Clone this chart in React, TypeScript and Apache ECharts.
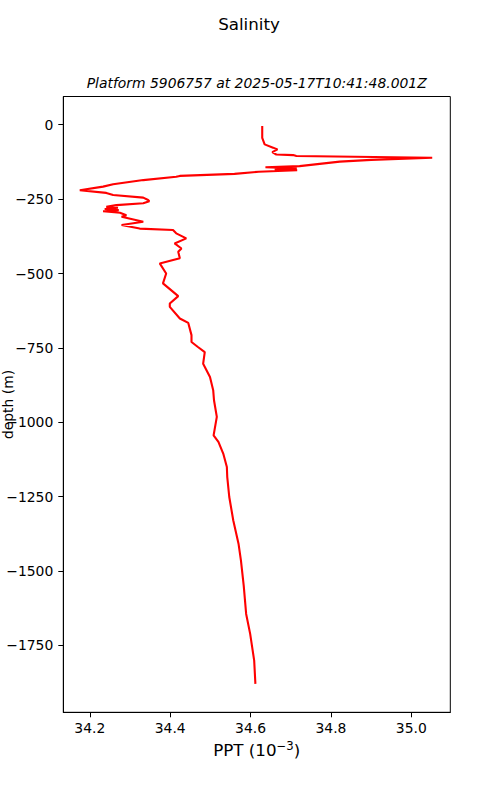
import React, { useEffect, useRef } from "react";
import * as echarts from "echarts";

const depth = [
  -4, -44, -66, -77, -83, -92, -100, -102, -105, -111, -118, -124, -139, -143, -147, -150, -153, -158, -165,
  -172, -175, -186, -200, -208, -220, -229, -236, -245, -253, -257, -264, -270, -276, -279, -283, -287, -291,
  -296, -304, -309, -326, -337, -349, -354, -365, -382, -399, -416, -427, -449, -466, -500, -533, -576, -601,
  -612, -651, -666, -707, -730, -747, -764, -803, -848, -892, -926, -982, -1044, -1066, -1105, -1150, -1184,
  -1251, -1330, -1408, -1464, -1550, -1644, -1711, -1801, -1879,
];
const salinity = [
  34.629, 34.629, 34.635, 34.656, 34.667, 34.654, 34.664, 34.706, 34.714, 35.052, 34.9, 34.822, 34.722, 34.637,
  34.715, 34.66, 34.716, 34.62, 34.56, 34.424, 34.415, 34.333, 34.258, 34.233, 34.175, 34.241, 34.258, 34.333,
  34.345, 34.348, 34.333, 34.266, 34.241, 34.27, 34.237, 34.272, 34.233, 34.275, 34.291, 34.279, 34.333, 34.279,
  34.324, 34.407, 34.415, 34.44, 34.411, 34.428, 34.42, 34.424, 34.374, 34.39, 34.382, 34.42, 34.399, 34.399,
  34.424, 34.445, 34.453, 34.453, 34.469, 34.486, 34.482, 34.499, 34.507, 34.509, 34.516, 34.508, 34.52, 34.532,
  34.541, 34.542, 34.547, 34.557, 34.57, 34.576, 34.583, 34.589, 34.599, 34.609, 34.612,
];
const xTicks = [34.2, 34.4, 34.6, 34.8, 35.0];
const yTicks = [0, -250, -500, -750, -1000, -1250, -1500, -1750];

const FONT = "DejaVu Sans";

export default function App() {
  const ref = useRef<HTMLDivElement>(null);
  useEffect(() => {
    document.body.style.margin = "0";
    const chart = echarts.init(ref.current!, null, { renderer: "svg" });
    const data = depth.map((d, i) => [salinity[i], d]);
    chart.setOption({
      animation: false,
      backgroundColor: "#fff",
      grid: {
        left: 63.3,
        top: 96.5,
        right: 49.7,
        bottom: 87.7,
        show: true,
        borderColor: "#000",
        borderWidth: 1,
        backgroundColor: "transparent",
      },
      xAxis: {
        type: "value",
        min: 34.134,
        max: 35.097,
        axisLine: { show: true, onZero: false, lineStyle: { color: "#000", width: 1 } },
        axisTick: { show: true, inside: false, length: 5, customValues: xTicks, lineStyle: { color: "#000", width: 1 } },
        axisLabel: {
          customValues: xTicks,
          margin: 9,
          color: "#000",
          fontFamily: FONT,
          fontSize: 13.9,
          formatter: (v: number) => v.toFixed(1),
        },
        splitLine: { show: false },
      },
      yAxis: {
        type: "value",
        min: -1974.6,
        max: 94.9,
        axisLine: { show: true, onZero: false, lineStyle: { color: "#000", width: 1 } },
        axisTick: { show: true, inside: false, length: 5, customValues: yTicks, lineStyle: { color: "#000", width: 1 } },
        axisLabel: {
          customValues: yTicks,
          margin: 10,
          color: "#000",
          fontFamily: FONT,
          fontSize: 13.9,
          formatter: (v: number) => (v < 0 ? "\u2212" + Math.abs(v) : String(v)),
        },
        splitLine: { show: false },
      },
      graphic: [
        {
          type: "text",
          x: 249,
          y: 24,
          style: { text: "Salinity", fontFamily: FONT, fontSize: 16.7, fill: "#000", align: "center", verticalAlign: "middle" },
        },
        {
          type: "text",
          x: 256.7,
          y: 83,
          style: {
            text: "Platform 5906757 at 2025-05-17T10:41:48.001Z",
            fontFamily: FONT,
            fontStyle: "italic",
            fontSize: 13.9,
            fill: "#000",
            align: "center",
            verticalAlign: "middle",
          },
        },
        {
          type: "text",
          x: 256.7,
          y: 750,
          style: {
            text: "PPT (10{sup|\u22123})",
            fontFamily: FONT,
            fontSize: 16.7,
            fill: "#000",
            align: "center",
            verticalAlign: "middle",
            rich: {
              sup: { fontFamily: FONT, fontSize: 11.7, fill: "#000", padding: [0, 0, 9, 0] },
            },
          },
        },
        {
          type: "text",
          x: 7.5,
          y: 404.5,
          rotation: Math.PI / 2,
          style: { text: "depth (m)", fontFamily: FONT, fontSize: 13.9, fill: "#000", align: "center", verticalAlign: "middle" },
        },
      ],
      series: [
        {
          type: "line",
          data,
          showSymbol: false,
          symbol: "none",
          lineStyle: { color: "#ff0000", width: 2.1 },
          clip: true,
        },
      ],
    });
    return () => chart.dispose();
  }, []);
  return <div ref={ref} style={{ width: 500, height: 800 }} />;
}
